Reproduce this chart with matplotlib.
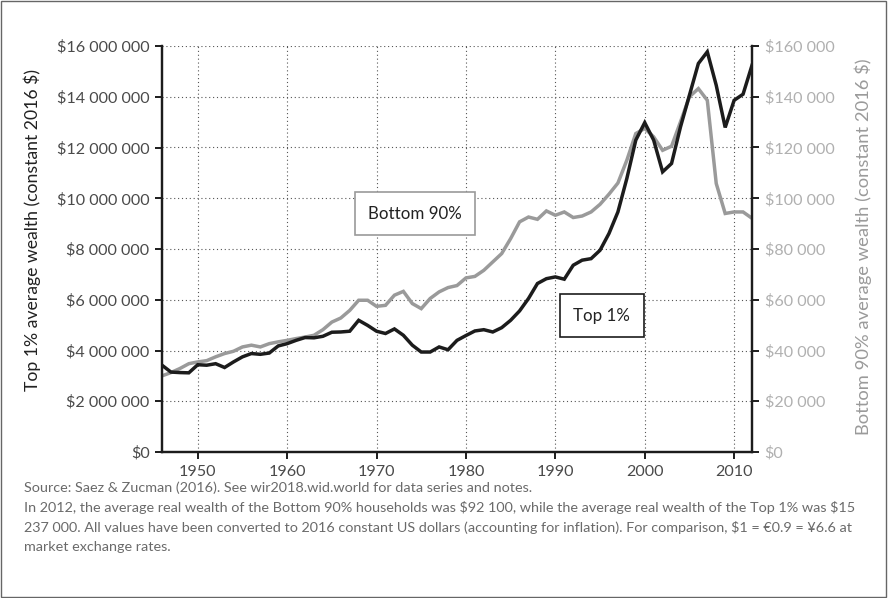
import matplotlib
matplotlib.use("Agg")
import matplotlib.pyplot as plt
from matplotlib.ticker import FuncFormatter, MultipleLocator
from matplotlib.patches import Rectangle

plt.rcParams['font.family'] = ['Lato', 'DejaVu Sans']
plt.rcParams['text.parse_math'] = False

# Years 1946-2012
years = list(range(1946, 2013))

# Top 1% average wealth, millions of constant 2016 $
top1 = [3.42, 3.15, 3.13, 3.12, 3.44, 3.42, 3.48, 3.33, 3.55, 3.75,
        3.88, 3.85, 3.90, 4.18, 4.27, 4.40, 4.51, 4.50, 4.56, 4.72,
        4.73, 4.76, 5.19, 4.99, 4.76, 4.67, 4.85, 4.60, 4.21, 3.94,
        3.94, 4.14, 4.03, 4.40, 4.59, 4.77, 4.82, 4.73, 4.90, 5.19,
        5.56, 6.05, 6.64, 6.83, 6.90, 6.81, 7.36, 7.56, 7.62, 7.95,
        8.61, 9.46, 10.78, 12.29, 12.98, 12.29, 11.04, 11.37, 12.81, 14.06,
        15.31, 15.77, 14.45, 12.79, 13.86, 14.10, 15.24]

# Bottom 90% average wealth, thousands of constant 2016 $
bottom90 = [30.0, 31.3, 32.9, 34.8, 35.5, 36.0, 37.5, 38.8, 39.7, 41.4,
            42.1, 41.4, 42.7, 43.4, 44.0, 44.7, 45.3, 46.0, 48.2, 51.2,
            52.8, 55.8, 59.8, 59.8, 57.4, 57.8, 61.8, 63.3, 58.5, 56.5,
            60.5, 63.1, 64.8, 65.6, 68.6, 69.2, 71.6, 74.9, 78.2, 84.1,
            90.7, 92.6, 91.7, 95.0, 93.3, 94.6, 92.4, 93.0, 94.6, 97.6,
            101.6, 106.0, 115.0, 125.5, 127.5, 124.2, 118.9, 120.5, 130.1, 140.0,
            143.2, 138.6, 105.8, 94.0, 94.6, 94.6, 92.1]

year_ticks = [1950, 1960, 1970, 1980, 1990, 2000, 2010]

source_note = "Source: Saez & Zucman (2016). See wir2018.wid.world for data series and notes."
detail_note = ("In 2012, the average real wealth of the Bottom 90% households was $92 100, while the average real wealth of the Top 1% was $15\n"
               "237 000. All values have been converted to 2016 constant US dollars (accounting for inflation). For comparison, $1 = \u20ac0.9 = \u00a56.6 at\n"
               "market exchange rates.")

BLACK = '#1c1c1c'
GREY = '#9a9a9a'
LIGHT = '#b0b0b0'


def money(v, pos):
    return '$' + f'{int(round(v)):,}'.replace(',', ' ')


fig = plt.figure(figsize=(8.88, 5.98), dpi=100)
ax = fig.add_axes([162 / 888, 1 - 452 / 598, (752 - 162) / 888, (452 - 46) / 598])
ax2 = ax.twinx()

# right axis behind, carries grid and grey line
ax2.set_zorder(1)
ax.set_zorder(2)
ax.patch.set_visible(False)

ax2.plot(years, [v * 1000 for v in bottom90], color=GREY, lw=2.5, solid_joinstyle='miter')
ax.plot(years, [v * 1e6 for v in top1], color=BLACK, lw=2.5, solid_joinstyle='miter')

ax.set_xlim(1946, 2012)
ax.set_ylim(0, 16e6)
ax2.set_ylim(0, 160000)
ax.set_xticks(year_ticks)
ax.yaxis.set_major_locator(MultipleLocator(2e6))
ax2.yaxis.set_major_locator(MultipleLocator(20000))
ax.yaxis.set_major_formatter(FuncFormatter(money))
ax2.yaxis.set_major_formatter(FuncFormatter(money))

ax2.grid(True, which='major', axis='y', linestyle=(0, (1, 2.5)), color='#555555', lw=0.8)
for yr in year_ticks:
    ax2.axvline(yr, linestyle=(0, (1, 2.5)), color='#555555', lw=0.8, zorder=0.5)

for a in (ax, ax2):
    a.spines['top'].set_visible(False)
    for s in ('left', 'bottom', 'right'):
        a.spines[s].set_color(BLACK)
        a.spines[s].set_linewidth(1.6)

ax.tick_params(axis='both', direction='out', length=5, width=1.4, color=BLACK,
               labelsize=11.6, labelcolor='#4a4a4a', pad=4)
ax2.tick_params(axis='y', direction='out', length=5, width=1.4, color=BLACK,
                labelsize=11.6, labelcolor=LIGHT, pad=4)

ax.set_ylabel('Top 1% average wealth (constant 2016 $)', fontsize=12.7, color='#222222')
ax.yaxis.set_label_coords(-121 / 590, 0.547)
ax2.set_ylabel('Bottom 90% average wealth (constant 2016 $)', fontsize=13.2, color=GREY)
ax2.yaxis.set_label_coords(1 + 102 / 590, 0.505)

ax.text(1974.3, 9.39e6, 'Bottom 90%', fontsize=12.2, color='#222222', ha='center', va='center',
        bbox=dict(boxstyle='square,pad=0.8', fc='white', ec=GREY, lw=1.2), zorder=5)
ax.text(1995.2, 5.37e6, 'Top 1%', fontsize=12.2, color='#222222', ha='center', va='center',
        bbox=dict(boxstyle='square,pad=0.8', fc='white', ec=BLACK, lw=1.2), zorder=5)

fig.text(24 / 888, 1 - 488 / 598, source_note, fontsize=10.4, color='#6a6a6a', va='center')
fig.text(24 / 888, 1 - 501 / 598, detail_note, fontsize=10.4, color='#6a6a6a', va='top',
         linespacing=1.65)

fig.patches.append(Rectangle((0.001, 0.002), 0.997, 0.996, transform=fig.transFigure,
                             fill=False, ec='#666666', lw=1.0))

fig.savefig('out.png', dpi=100)
